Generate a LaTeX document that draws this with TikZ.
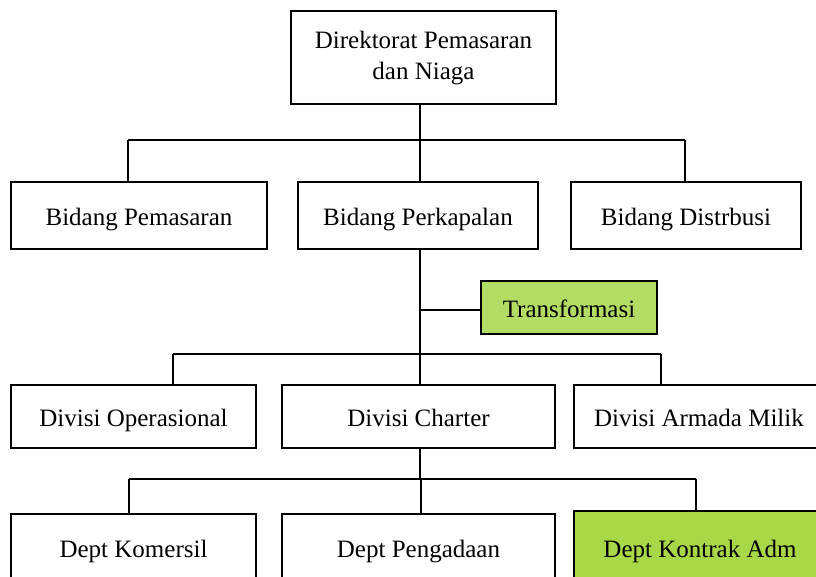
\documentclass[tikz,border=0pt]{standalone}
\usepackage{fontspec}
\setmainfont{Liberation Serif}
\definecolor{transgreen}{RGB}{178,220,100}
\definecolor{kontrakgreen}{RGB}{168,216,72}
\begin{document}
\begin{tikzpicture}[x=1pt,y=-1pt,
  boxbase/.style={draw=black, line width=1.3pt, fill=white, inner sep=0pt, align=center,
    font=\fontsize{25}{31}\selectfont},
  box/.style={boxbase, text height=22pt, text depth=3pt},
  conn/.style={draw=black, line width=1.3pt}]
\useasboundingbox (0,0) rectangle (816,576);
\clip (0,0) rectangle (816,576);

% nodes
\node[boxbase, minimum width=265pt, minimum height=93pt] (dir) at (423.5,57.5) {\raisebox{-3pt}{\begin{tabular}{@{}c@{}}Direktorat Pemasaran\\dan Niaga\end{tabular}}};
\node[box, minimum width=256pt, minimum height=67pt] (pem) at (139,215.5) {Bidang Pemasaran};
\node[box, minimum width=240pt, minimum height=67pt] (perk) at (418,215.5) {Bidang Perkapalan};
\node[box, minimum width=230pt, minimum height=67pt] (dist) at (686,215.5) {Bidang Distrbusi};
\node[box, fill=transgreen, minimum width=176pt, minimum height=53pt] (trans) at (569,307.5) {Transformasi};
\node[box, minimum width=245pt, minimum height=63pt] (ops) at (133.5,416.5) {Divisi Operasional};
\node[box, minimum width=273pt, minimum height=63pt] (chart) at (418.5,416.5) {Divisi Charter};
\node[box, minimum width=250pt, minimum height=63pt] (arm) at (699,416.5) {Divisi Armada Milik};
\node[box, minimum width=245pt, minimum height=67pt] (kom) at (133.5,547.5) {Dept Komersil};
\node[box, minimum width=273pt, minimum height=67pt] (peng) at (418.5,547.5) {Dept Pengadaan};
\node[box, fill=kontrakgreen, minimum width=252pt, minimum height=73pt] (kon) at (700,547.5) {Dept Kontrak Adm};

% bus coordinates
\coordinate (b1) at (420,140);
\coordinate (b1l) at (128,140);
\coordinate (b1r) at (685,140);
\coordinate (tj) at (420,310);
\coordinate (b2) at (420,354);
\coordinate (b2l) at (173,354);
\coordinate (b2r) at (661,354);
\coordinate (b3) at (420,479);
\coordinate (b3l) at (129,479);
\coordinate (b3m) at (421,479);
\coordinate (b3r) at (696,479);

% level 1 -> 2
\draw[conn] (dir.south -| b1) -- (b1);
\draw[conn] (b1l) -- (b1r);
\draw[conn] (b1l) -- (pem.north -| b1l);
\draw[conn] (b1) -- (perk.north -| b1);
\draw[conn] (b1r) -- (dist.north -| b1r);

% level 2 -> 3
\draw[conn] (perk.south -| b2) -- (b2);
\draw[conn] (tj) -- (trans.west |- tj);
\draw[conn] (b2l) -- (b2r);
\draw[conn] (b2l) -- (ops.north -| b2l);
\draw[conn] (b2) -- (chart.north -| b2);
\draw[conn] (b2r) -- (arm.north -| b2r);

% level 3 -> 4
\draw[conn] (chart.south -| b3) -- (b3);
\draw[conn] (b3l) -- (b3r);
\draw[conn] (b3l) -- (kom.north -| b3l);
\draw[conn] (b3m) -- (peng.north -| b3m);
\draw[conn] (b3r) -- (kon.north -| b3r);
\end{tikzpicture}
\end{document}
